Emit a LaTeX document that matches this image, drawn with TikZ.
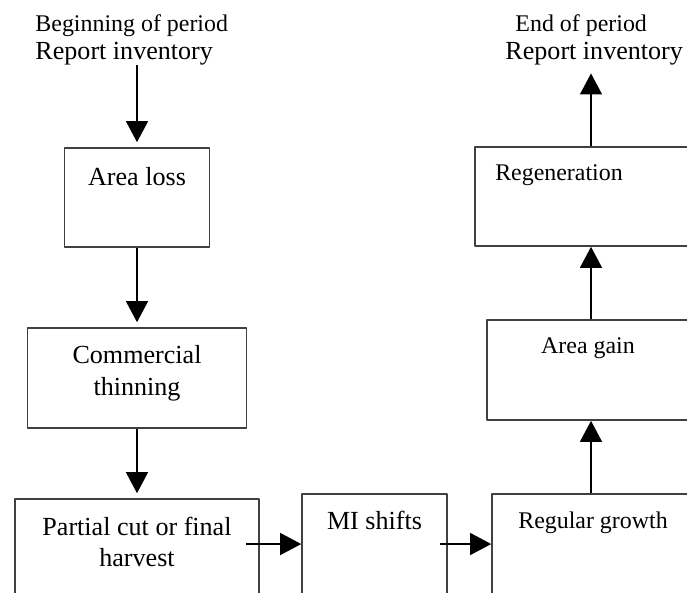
\documentclass[tikz,border=0pt]{standalone}
\usepackage{fontspec}
\setmainfont{Liberation Serif}
\usepackage{tikz}
\usetikzlibrary{arrows.meta,positioning}

\begin{document}
\begin{tikzpicture}[line cap=round,line join=round,>={Triangle[length=9.7pt,width=10pt]},x=0.46pt,y=-0.46pt,
  box/.style={draw=black!75,line width=0.7pt,inner sep=0pt},
  lbl/.style={inner sep=0pt,align=center,anchor=north,font=\fontsize{12}{14.5}\selectfont},
  slbl/.style={inner sep=0pt,anchor=north,font=\fontsize{11}{13}\selectfont},
  flow/.style={->,line width=1.1pt,line cap=butt}]
\useasboundingbox (0,0) rectangle (687,592);
\clip (0,0) rectangle (687,592);
\node[inner sep=0pt,align=left,anchor=north west,font=\fontsize{12}{12.9}\selectfont] (begin) at (35,14) {{\fontsize{11}{12.9}\selectfont Beginning of period}\\Report inventory};
\node[inner sep=0pt,align=left,anchor=north west,font=\fontsize{12}{12.9}\selectfont] (end) at (505,14) {{\fontsize{11}{12.9}\selectfont\hspace*{4.6pt}End of period}\\Report inventory};
\node[box,minimum width=66.7pt,minimum height=45.54pt,label={[lbl,label distance=-9.2pt]north:Area loss}] (arealoss) at (137,197.5) {};
\node[box,minimum width=100.74pt,minimum height=46pt,label={[lbl,label distance=-8.28pt]north:Commercial\\thinning}] (thinning) at (137,378) {};
\node[box,minimum width=112.24pt,minimum height=69.46pt,label={[lbl,label distance=-8.28pt]north:Partial cut or final\\harvest}] (partial) at (137,574.5) {};
\node[box,minimum width=66.7pt,minimum height=46pt,label={[lbl,label distance=-7.82pt]north:MI shifts}] (mishifts) at (374.5,544) {};
\node[box,minimum width=91.08pt,minimum height=46pt,label={[slbl,label distance=-8.28pt,xshift=0.92pt]north:Regular growth}] (growth) at (591,544) {};
\node[box,minimum width=95.68pt,minimum height=46pt,label={[slbl,label distance=-8.28pt,xshift=-1.38pt]north:Area gain}] (areagain) at (591,370) {};
\node[box,minimum width=106.72pt,minimum height=45.54pt,label={[slbl,label distance=-8.28pt,xshift=-14.72pt]north:Regeneration}] (regen) at (591,196.5) {};
\draw[flow,shorten >=2.3pt] (arealoss.north |- begin.south) -- (arealoss.north);
\draw[flow,shorten >=2.3pt] (arealoss.south) -- (thinning.north);
\draw[flow,shorten >=2.3pt] (thinning.south) -- (partial.north);
\draw[flow] ([xshift=-6.44pt]partial.east |- mishifts.west) -- (mishifts.west);
\draw[flow] ([xshift=-3.68pt]mishifts.east) -- (growth.west);
\draw[flow] (growth.north) -- (areagain.south);
\draw[flow] (areagain.north) -- (regen.south);
\draw[flow,shorten >=3.68pt] (regen.north) -- (regen.north |- end.south);
\end{tikzpicture}
\end{document}
